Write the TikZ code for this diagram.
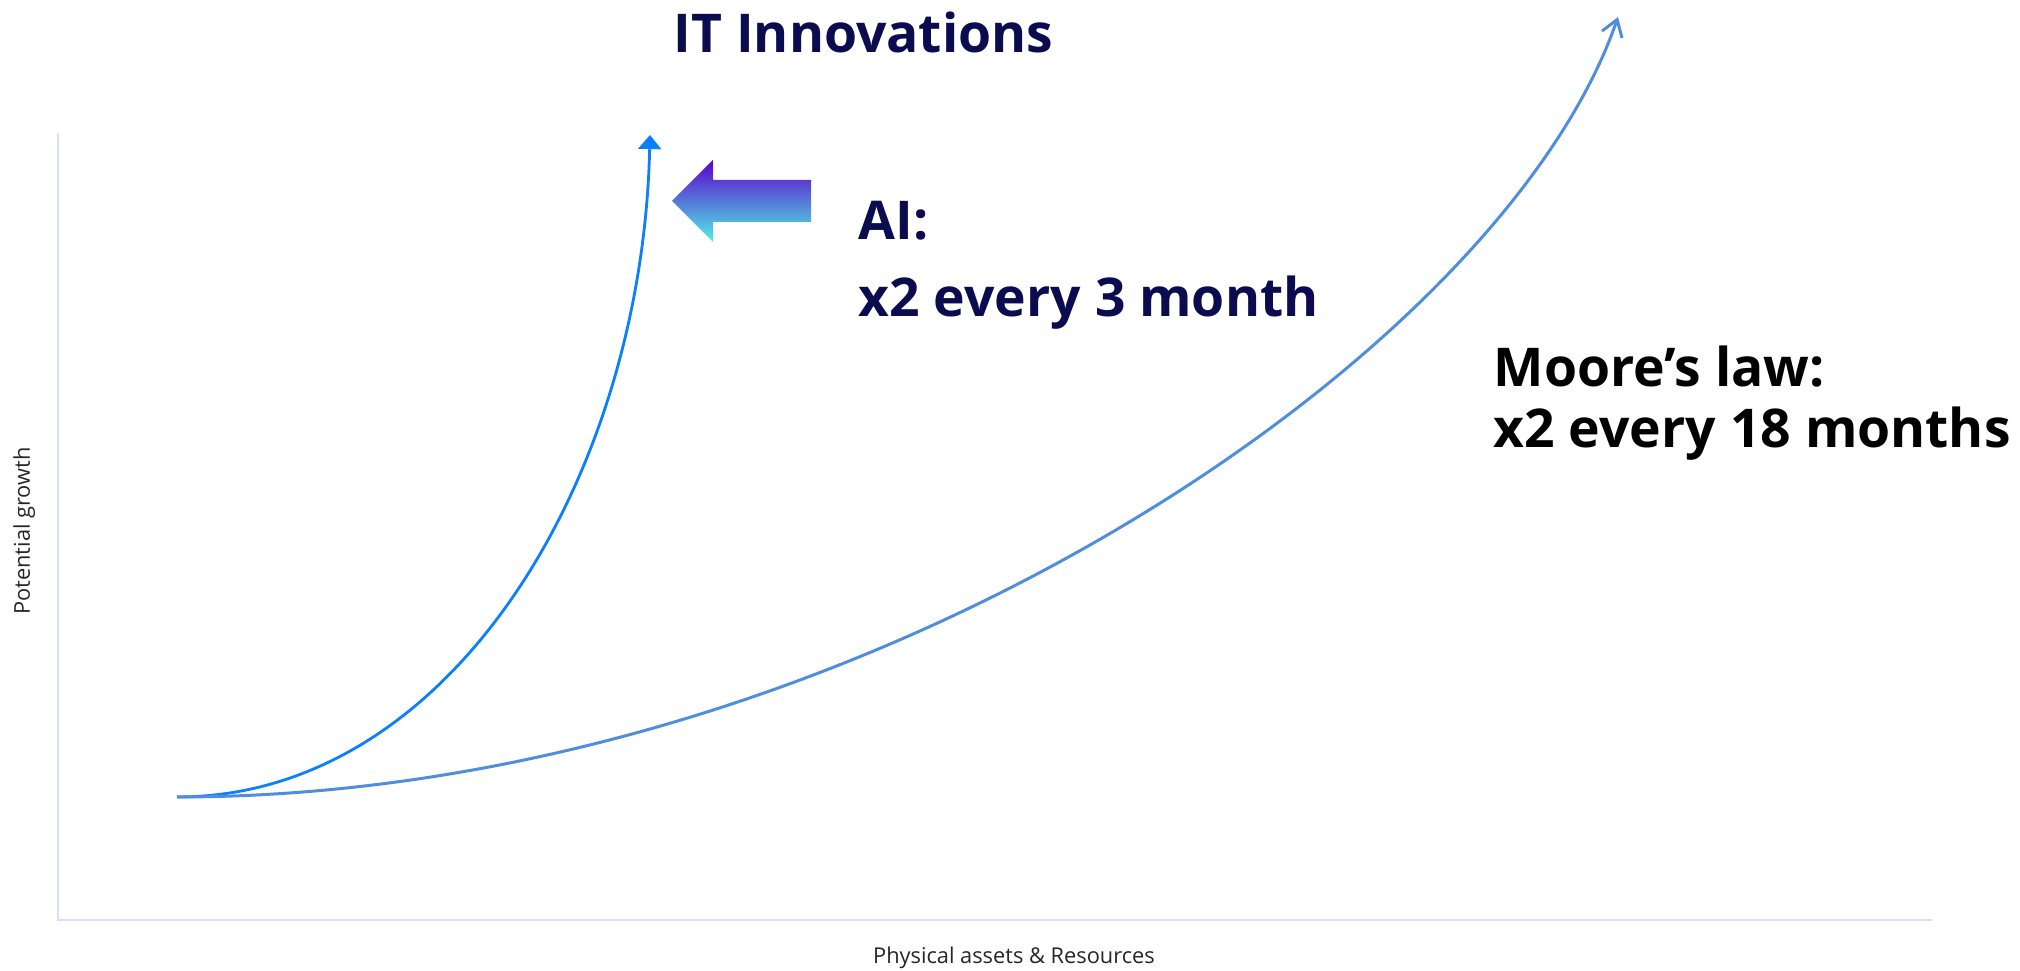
\documentclass[tikz,border=0pt]{standalone}
\usepackage{fontspec}
\setmainfont{Open Sans}
\usetikzlibrary{arrows.meta,positioning}
\definecolor{navytext}{HTML}{0B0B50}
\definecolor{axislav}{HTML}{DCDCFF}
\definecolor{aiblue}{HTML}{0A80FF}
\definecolor{mooreblue}{HTML}{4F8EDC}
\definecolor{arrowtop}{HTML}{5F00CC}
\definecolor{arrowmid}{HTML}{5A60D2}
\definecolor{arrowbot}{HTML}{4FF0E6}
\begin{document}
\begin{tikzpicture}[x=0.01cm,y=-0.01cm,
  axisline/.style={line width=0.6pt,color=axislav},
  axislabel/.style={inner sep=0,color=black!85,font=\fontsize{6.2}{7}\selectfont},
  bigtext/.style={inner sep=0,anchor=base west,color=navytext,font=\fontsize{15.2}{18}\selectfont\bfseries},
  mooretext/.style={inner sep=0,anchor=base west,color=black,font=\fontsize{15.2}{18}\selectfont\bfseries}]
\useasboundingbox (0,0) rectangle (2020,971);
% axes
\draw [axisline](58,133) -- (58,920) -- (1932,920);
\node [axislabel,rotate=90,anchor=base] (ylab) at (30,531) {Potential growth};
\node [axislabel,anchor=base] (xlab) at (1014,964) {Physical assets \& Resources};
% curves
\coordinate (origin) at (177,797);
\coordinate (aitip) at (650,135);
\coordinate (mooretip) at (1618,17);
\draw [color=aiblue,line width=0.8pt,-{Triangle[length=4pt,width=6.5pt]}](origin) .. controls (450,797) and (642,480) .. (aitip);
\draw [color=mooreblue,line width=0.85pt,-{Straight Barb[length=4.5pt,width=6pt]}](origin) .. controls (850,797) and (1500,360) .. (mooretip);
% gradient arrow
\shade [top color=arrowtop,middle color=arrowmid,bottom color=arrowbot](672,201) -- (713,160) -- (713,180) -- (811,180) -- (811,222) -- (713,222) -- (713,242) -- cycle;
% labels
\node [bigtext] (title) at (673,53) {IT Innovations};
\node [bigtext] (ai) at (858,240) {AI:};
\node [bigtext] (airate) at (858,317) {x2 every 3 month};
\node [mooretext] (moore) at (1493,387) {Moore’s law:};
\node [mooretext] (moorerate) at (1493,448) {x2 every 18 months};
\end{tikzpicture}
\end{document}
